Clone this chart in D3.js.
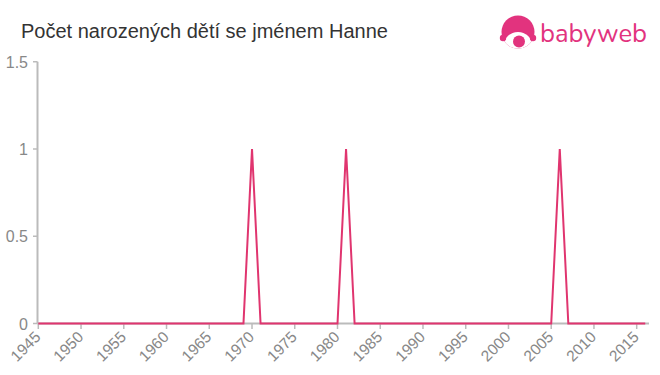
<!DOCTYPE html>
<html><head><meta charset="utf-8">
<script src="https://cdn.jsdelivr.net/npm/d3@7"></script>
<style>
html,body{margin:0;padding:0;background:#fff;}
svg{display:block;font-family:"Liberation Sans",Arial,sans-serif;}
</style></head>
<body>
<svg id="chart" width="660" height="375"></svg>
<script>
const title = "Počet narozených dětí se jménem Hanne";
const years = d3.range(1945, 2017);
const peakYears = [1970, 1981, 2006];
const peakValues = [1, 1, 1];
const values = years.map(y => { const i = peakYears.indexOf(y); return i >= 0 ? peakValues[i] : 0; });
const xTicks = [1945,1950,1955,1960,1965,1970,1975,1980,1985,1990,1995,2000,2005,2010,2015];
const yTicks = [0, 0.5, 1, 1.5];

const svg = d3.select("#chart");
const x = d3.scaleLinear().domain([1945, 2015]).range([38.3, 636.7]);
const y = d3.scaleLinear().domain([0, 1.5]).range([323.5, 61.75]);

svg.append("text").attr("x", 21).attr("y", 37.5).attr("font-size", 20).attr("fill", "#333").text(title);

// axes
const axisColor = "#bbb", textColor = "#888";
const yAxis = svg.append("g");
yAxis.append("line").attr("x1", 37.5).attr("x2", 37.5).attr("y1", y(1.5)).attr("y2", y(0)).attr("stroke", axisColor).attr("stroke-width", 2);
yTicks.forEach(t => {
  yAxis.append("line").attr("x1", 33).attr("x2", 37.5).attr("y1", y(t)).attr("y2", y(t)).attr("stroke", axisColor).attr("stroke-width", 1.5);
  yAxis.append("text").attr("x", 28).attr("y", y(t) + 6).attr("text-anchor", "end").attr("font-size", 16).attr("fill", textColor).text(t);
});
const xAxis = svg.append("g");
xAxis.append("line").attr("x1", 37.5).attr("x2", 649).attr("y1", 323.5).attr("y2", 323.5).attr("stroke", axisColor).attr("stroke-width", 2);
xTicks.forEach(t => {
  xAxis.append("line").attr("x1", x(t)).attr("x2", x(t)).attr("y1", 323.5).attr("y2", 329).attr("stroke", axisColor).attr("stroke-width", 1.5);
  xAxis.append("text").attr("transform", `translate(${x(t)+3.2},${338}) rotate(-45)`).attr("text-anchor", "end").attr("font-size", 15.5).attr("fill", textColor).text(t);
});

// line
const line = d3.line().x((d, i) => x(years[i])).y(d => y(d));
svg.append("path").datum(values).attr("d", line).attr("fill", "none").attr("stroke", "#e0356f").attr("stroke-width", 2);

// logo
const logo = svg.append("g");
const lc = "#e2337e";
svg.append("clipPath").attr("id", "lclip").append("circle").attr("cx", 518).attr("cy", 32).attr("r", 16.5);
logo.append("circle").attr("cx", 518).attr("cy", 32).attr("r", 16.5).attr("fill", lc);
logo.append("ellipse").attr("cx", 518).attr("cy", 45).attr("rx", 14).attr("ry", 13).attr("fill", "#fff").attr("clip-path", "url(#lclip)");
logo.append("circle").attr("cx", 503).attr("cy", 38).attr("r", 3.2).attr("fill", lc);
logo.append("circle").attr("cx", 533).attr("cy", 38).attr("r", 3.2).attr("fill", lc);
logo.append("circle").attr("cx", 519).attr("cy", 41.5).attr("r", 6).attr("fill", lc);
logo.append("text").attr("x", 540).attr("y", 41.5).attr("font-family", "Nunito, 'Open Sans', Arial, sans-serif").attr("font-size", 25.5).attr("textLength", 107).attr("lengthAdjust", "spacingAndGlyphs").attr("fill", lc).text("babyweb");
</script>
</body></html>
